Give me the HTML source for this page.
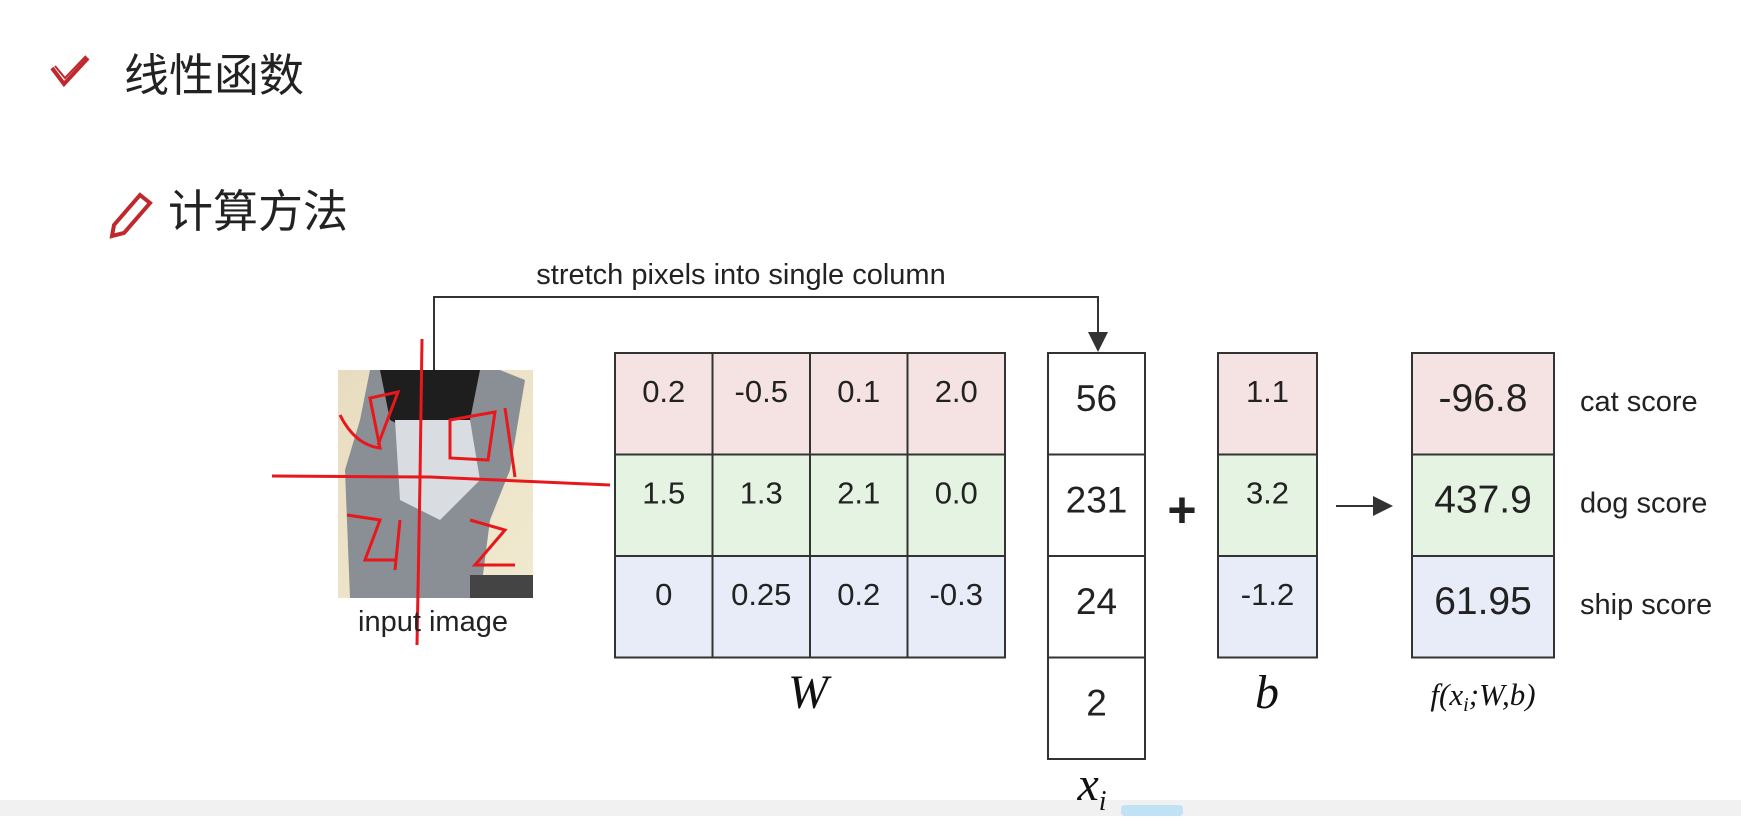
<!DOCTYPE html>
<html><head><meta charset="utf-8">
<style>
html,body{margin:0;padding:0;background:#fff;}
body{width:1741px;height:816px;overflow:hidden;position:relative;font-family:"Liberation Sans","Noto Sans CJK SC",sans-serif;}
</style></head>
<body>
<svg width="1741" height="816" viewBox="0 0 1741 816" xmlns="http://www.w3.org/2000/svg">
<defs>
<marker id="ah" markerWidth="10" markerHeight="10" refX="9" refY="5" orient="auto"><path d="M0,0 L10,5 L0,10 z" fill="#333"/></marker>
<linearGradient id="bg" x1="0" y1="0" x2="1" y2="1"><stop offset="0" stop-color="#e8dcc0"/><stop offset="1" stop-color="#f1ead0"/></linearGradient>
</defs>
<rect x="0" y="0" width="1741" height="816" fill="#fff"/>
<rect x="0" y="800" width="1741" height="16" fill="#f1f1f1"/>
<rect x="1121" y="805" width="62" height="11" rx="4" fill="#bfe2f5"/>

<g><path d="M52,68 L64,84 L88,58" fill="none" stroke="#c0282e" stroke-width="4"/><path d="M55,66 L65,78 L86,56" fill="none" stroke="#c0282e" stroke-width="2"/></g>
<text x="124" y="91" font-size="45" fill="#222" font-family="'Noto Sans CJK SC',sans-serif">线性函数</text>
<g><path d="M114,225 L140,195 L150,203 L124,233 L112,236 Z" fill="none" stroke="#c0282e" stroke-width="4"/></g>
<text x="168" y="227" font-size="45" fill="#222" font-family="'Noto Sans CJK SC',sans-serif">计算方法</text>

<text x="741" y="284" font-size="29" fill="#222" text-anchor="middle">stretch pixels into single column</text>
<path d="M434,372 L434,297 L1098,297 L1098,350" fill="none" stroke="#333" stroke-width="2" marker-end="url(#ah)"/>

<g>
<rect x="338" y="370" width="195" height="228" fill="url(#bg)"/>
<path d="M350,598 L345,470 L360,420 L370,370 L500,370 L525,380 L510,470 L490,520 L480,598 Z" fill="#8a8e95"/>
<path d="M380,370 L480,370 L470,420 L430,440 L390,420 Z" fill="#1e1e1e"/>
<path d="M395,420 L470,420 L480,480 L440,520 L400,500 Z" fill="#d9dde2"/>
<rect x="470" y="575" width="63" height="23" fill="#444"/>
</g>
<g fill="none" stroke="#e8171c" stroke-width="3">
<path d="M272,476 L430,477 L610,485"/>
<path d="M422,339 L420,480 L417,645"/>
<path d="M505,408 L515,477"/>
<path d="M340,415 Q355,445 380,448 L370,398 L398,392 L378,445"/>
<path d="M450,420 L495,412 L488,460 L450,458 Z"/>
<path d="M347,515 L380,520 L365,560 L395,560 M400,520 L395,570"/>
<path d="M470,520 L505,530 L475,565 L515,565"/>
</g>
<text x="433" y="631" font-size="29" fill="#222" text-anchor="middle">input image</text>

<g id="W"></g>
<g id="X"></g>
<g id="B"></g>
<g id="F"></g>

<text x="1182" y="527" font-size="50" font-weight="bold" fill="#222" text-anchor="middle">+</text>
<path d="M1336,506 L1391,506" stroke="#333" stroke-width="2" marker-end="url(#ah)"/>

<text x="808" y="708" font-size="48" font-style="italic" fill="#111" font-family="'Liberation Serif',serif" text-anchor="middle">W</text>
<text x="1267" y="708" font-size="48" font-style="italic" fill="#111" font-family="'Liberation Serif',serif" text-anchor="middle">b</text>
<text x="1483" y="705" font-size="31" font-style="italic" fill="#111" font-family="'Liberation Serif',serif" text-anchor="middle">f(x<tspan font-size="20" dy="6">i</tspan><tspan dy="-6">;W,b)</tspan></text>
<text x="1092" y="800" font-size="48" font-style="italic" fill="#111" font-family="'Liberation Serif',serif" text-anchor="middle">x<tspan font-size="28" dy="10">i</tspan></text>
</svg>
<script>
const W = [["0.2","-0.5","0.1","2.0"],["1.5","1.3","2.1","0.0"],["0","0.25","0.2","-0.3"]];
const X = ["56","231","24","2"];
const B = ["1.1","3.2","-1.2"];
const F = ["-96.8","437.9","61.95"];
const LABELS = ["cat score","dog score","ship score"];
const ROWC = ["#f5e3e3","#e4f3e2","#e7ecf8"];
const NS="http://www.w3.org/2000/svg";
function el(p,t,a){const e=document.createElementNS(NS,t);for(const k in a)e.setAttribute(k,a[k]);p.appendChild(e);return e;}
const top0=353, rh=101.5;
function cell(g,x,y,w,h,fill,txt,fs,dy){
  const r=el(g,'rect',{x:x,y:y,width:w,height:h,fill:fill,stroke:'#333','stroke-width':2});
  
  
  const t=el(g,'text',{x:x+w/2,y:y+dy,'font-size':fs,'text-anchor':'middle',fill:'#222','font-family':'Liberation Sans, sans-serif'});
  t.textContent=txt;
  
  
}
const gW=document.getElementById('W');
W.forEach((row,i)=>row.forEach((v,j)=>cell(gW,615+j*97.5,top0+i*rh,97.5,rh,ROWC[i],v,31,49)));
const gX=document.getElementById('X');
X.forEach((v,i)=>cell(gX,1048,top0+i*rh,97,rh,'#fff',v,37,58));
const gB=document.getElementById('B');
B.forEach((v,i)=>cell(gB,1218,top0+i*rh,99,rh,ROWC[i],v,31,49));
const gF=document.getElementById('F');
F.forEach((v,i)=>{cell(gF,1412,top0+i*rh,142,rh,ROWC[i],v,39,58);
  const t=el(gF,'text',{x:1580,y:top0+i*rh+58,'font-size':29,fill:'#222'});
  t.textContent=LABELS[i];
  
  
});
</script>
</body></html>
